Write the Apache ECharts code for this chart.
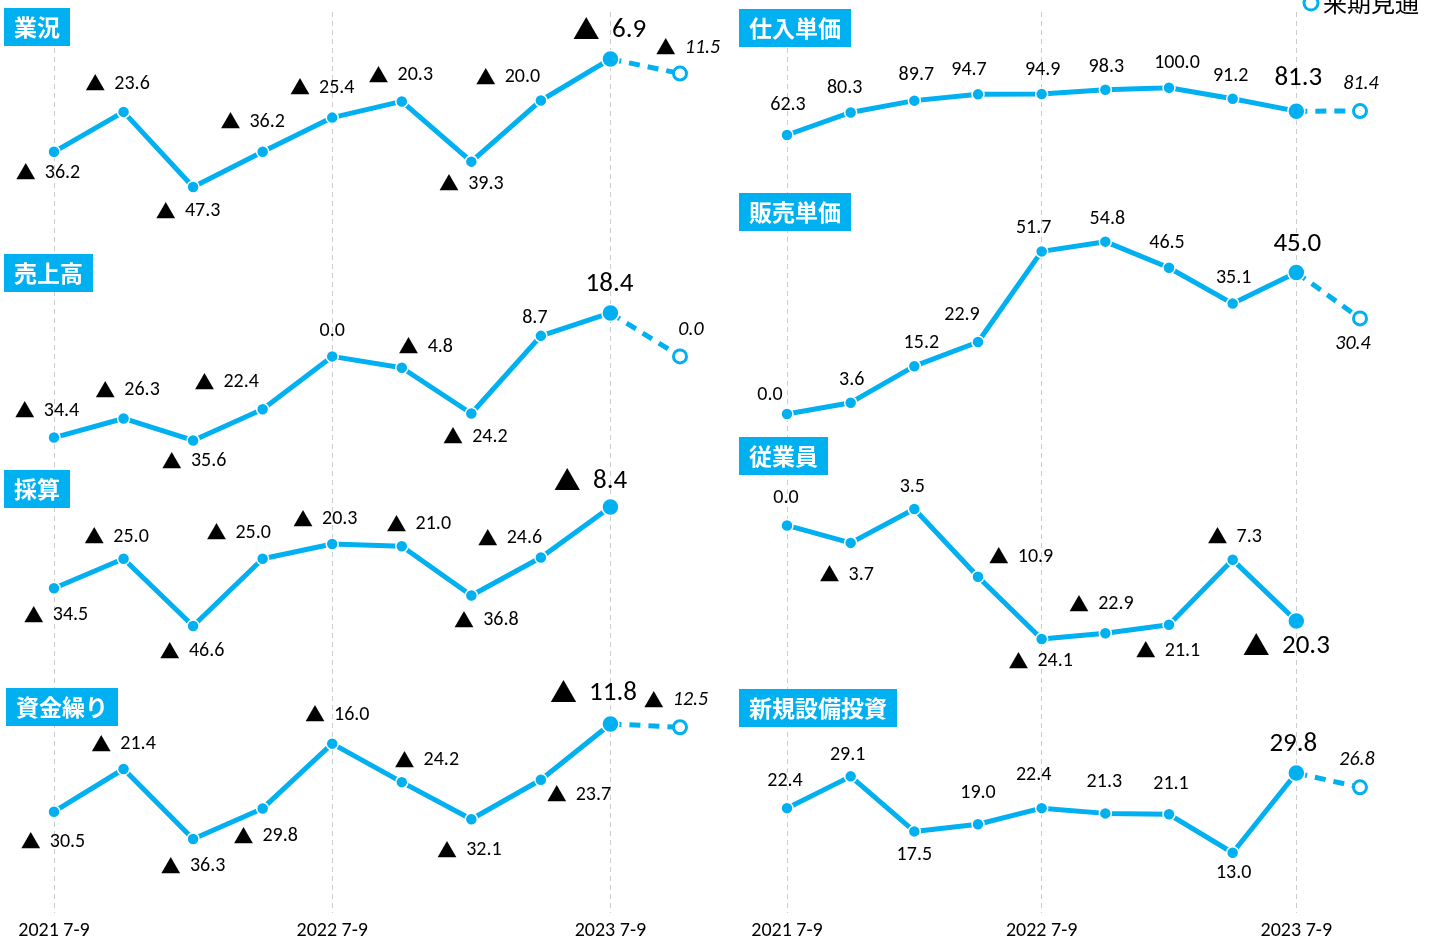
<!DOCTYPE html>
<html>
<head>
<meta charset="utf-8">
<script src="https://cdn.jsdelivr.net/npm/echarts@6/dist/echarts.min.js"></script>
<style>
html,body{margin:0;padding:0;background:#fff;}
#main{width:1435px;height:942px;}
</style>
</head>
<body>
<div id="main"></div>
<script>
// quarters (the 10th one is the outlook)
var categories = ['2021 7-9','2021 10-12','2022 1-3','2022 4-6','2022 7-9','2022 10-12','2023 1-3','2023 4-6','2023 7-9','2023 10-12'];
var tickLabels = ['2021 7-9','2022 7-9','2023 7-9'];

// DI values (negative = ▲)
var gyokyo     = [-36.2, -23.6, -47.3, -36.2, -25.4, -20.3, -39.3, -20.0, -6.9];
var gyokyoNext = -11.5;
var uriage     = [-34.4, -26.3, -35.6, -22.4, 0.0, -4.8, -24.2, 8.7, 18.4];
var uriageNext = 0.0;
var saisan     = [-34.5, -25.0, -46.6, -25.0, -20.3, -21.0, -36.8, -24.6, -8.4];
var saisanNext = null;
var shikin     = [-30.5, -21.4, -36.3, -29.8, -16.0, -24.2, -32.1, -23.7, -11.8];
var shikinNext = -12.5;
var shiire     = [62.3, 80.3, 89.7, 94.7, 94.9, 98.3, 100.0, 91.2, 81.3];
var shiireNext = 81.4;
var hanbai     = [0.0, 3.6, 15.2, 22.9, 51.7, 54.8, 46.5, 35.1, 45.0];
var hanbaiNext = 30.4;
var jugyoin    = [0.0, -3.7, 3.5, -10.9, -24.1, -22.9, -21.1, -7.3, -20.3];
var jugyoinNext = null;
var setsubi    = [22.4, 29.1, 17.5, 19.0, 22.4, 21.3, 21.1, 13.0, 29.8];
var setsubiNext = 26.8;

var BLUE = '#00B0F0';
var FONT = 'Carlito, Lato, "Noto Sans", sans-serif';
var JP = '"Noto Sans CJK JP", sans-serif';

var cols = [{left: 54, right: 755}, {left: 787, right: 75}];

// layout of each small panel (label offsets are relative to the point)
var panels = [
  {name: '業況', data: gyokyo, next: gyokyoNext, col: 0, titleLeft: 4, titleTop: 8, top: 37.1, height: 174.3, min: -55, max: 0,
   off: [[-6,21],[-6,-28],[-5,24],[-10,-30],[-10,-30],[-1,-26],[0,22],[-33,-23],[-1,-29],[8,-26]]},
  {name: '売上高', data: uriage, next: uriageNext, col: 0, titleLeft: 4, titleTop: 254, top: 309.2, height: 141.6, min: -40, max: 20,
   off: [[-7,-27],[4,-28],[1,21],[-36,-27],[0,-25],[24,-21],[4,23],[-6,-18],[-1,-29],[11,-26]]},
  {name: '採算', data: saisan, next: saisanNext, col: 0, titleLeft: 4, titleTop: 470, top: 480.8, height: 155.8, min: -50, max: 0,
   off: [[2,27],[-7,-22],[-1,25],[-24,-26],[-7,-25],[17,-22],[15,25],[-31,-19],[-20,-26]]},
  {name: '資金繰り', data: shikin, next: shikinNext, col: 0, titleLeft: 6, titleTop: 688, top: 715.5, height: 140.8, min: -40, max: -10,
   off: [[-1,30],[0,-25],[0,27],[3,28],[5,-29],[25,-22],[-2,31],[38,15],[-17,-31],[-4,-27]]},
  {name: '仕入単価', data: shiire, next: shiireNext, col: 1, titleLeft: 739, titleTop: 9, top: 87.7, height: 50.2, min: 60, max: 100,
   off: [[1,-30],[-6,-24],[2,-26],[-9,-24],[1,-24],[1,-23],[8,-25],[-2,-23],[2,-33],[1,-27]]},
  {name: '販売単価', data: hanbai, next: hanbaiNext, col: 1, titleLeft: 739, titleTop: 193, top: 225.3, height: 188.7, min: 0, max: 60,
   off: [[-17,-19],[1,-23],[7,-23],[-16,-27],[-8,-23],[2,-23],[-2,-25],[1,-26],[1,-28],[-7,26]]},
  {name: '従業員', data: jugyoin, next: jugyoinNext, col: 1, titleLeft: 739, titleTop: 437, top: 501.9, height: 141.3, min: -25, max: 5,
   off: [[-1,-27],[-4,32],[-2,-22],[43,-20],[-1,22],[-4,-29],[-1,26],[2,-23],[-10,25]]},
  {name: '新規設備投資', data: setsubi, next: setsubiNext, col: 1, titleLeft: 739, titleTop: 689, top: 772.1, height: 94.9, min: 10, max: 30,
   off: [[-2,-27],[-3,-21],[0,24],[0,-31],[-8,-33],[-1,-31],[2,-30],[1,20],[-3,-29],[-3,-27]]}
];

function fmt(v) {
  if (v < 0) return '{t|▲}  ' + (-v).toFixed(1);
  return v.toFixed(1);
}
var tri = {t: {fontFamily: JP, fontStyle: 'normal'}};

var dom = document.getElementById('main');
var myChart = echarts.init(dom);

var grids = [], xAxes = [], yAxes = [], series = [], titles = [];

function showTick(i, v) { return tickLabels.indexOf(v) >= 0; }

// frame grids: dashed quarter lines + bottom labels
cols.forEach(function (c, k) {
  grids.push({left: c.left, right: c.right, top: 12, bottom: 29});
  xAxes.push({
    type: 'category', gridIndex: k, data: categories, boundaryGap: false,
    axisLine: {show: false}, axisTick: {show: false},
    axisLabel: {interval: showTick, margin: 8, color: '#000', fontSize: 20, fontFamily: FONT},
    splitLine: {show: true, interval: showTick, lineStyle: {color: '#cccccc', type: [5, 4], width: 1}}
  });
  yAxes.push({type: 'value', gridIndex: k, show: false, min: 0, max: 1, splitLine: {show: false}});
});

panels.forEach(function (p, n) {
  var gi = n + 2;
  var c = cols[p.col];
  grids.push({left: c.left, right: c.right, top: p.top, height: p.height});
  xAxes.push({type: 'category', gridIndex: gi, data: categories, boundaryGap: false, show: false});
  yAxes.push({type: 'value', gridIndex: gi, show: false, min: p.min, max: p.max, splitLine: {show: false}});

  titles.push({
    text: p.name, left: p.titleLeft, top: p.titleTop,
    backgroundColor: BLUE, padding: [5, 10],
    textStyle: {color: '#fff', fontSize: 23, fontWeight: 'bold', fontFamily: JP, lineHeight: 28}
  });

  var last = p.data.length - 1;
  if (p.next !== null) {
    var fdata = [];
    for (var i = 0; i < last; i++) fdata.push('-');
    fdata.push({value: p.data[last], symbol: 'none', label: {show: false}});
    fdata.push({value: p.next, label: {show: true, offset: p.off[last + 1]}});
    series.push({
      name: '来期見通', type: 'line', xAxisIndex: gi, yAxisIndex: gi, z: 2,
      data: fdata, symbol: 'circle', symbolSize: 13,
      lineStyle: {color: BLUE, width: 5, type: [11, 8]},
      itemStyle: {color: '#fff', borderColor: BLUE, borderWidth: 3},
      label: {position: 'inside', formatter: function (q) { return fmt(q.value); }, rich: tri,
              color: '#000', fontSize: 20, fontStyle: 'italic', fontFamily: FONT},
      emphasis: {disabled: true}, animation: false
    });
  }

  series.push({
    name: p.name, type: 'line', xAxisIndex: gi, yAxisIndex: gi, z: 3,
    data: p.data.map(function (v, i) {
      var big = i === last;
      return {value: v, symbolSize: big ? 17 : 12,
              label: {offset: p.off[i], fontSize: big ? 27 : 20}};
    }),
    symbol: 'circle',
    lineStyle: {color: BLUE, width: 5},
    itemStyle: {color: BLUE, borderColor: '#fff', borderWidth: 1.5},
    label: {show: true, position: 'inside', color: '#000', fontFamily: FONT, rich: tri,
            formatter: function (q) { return fmt(q.value); }},
    emphasis: {disabled: true}, animation: false
  });
});

var option = {
  backgroundColor: '#fff',
  title: titles,
  legend: {
    data: [{name: '来期見通', icon: 'circle'}],
    right: 11, top: -14, selectedMode: false,
    itemWidth: 14, itemHeight: 14, itemGap: 7,
    itemStyle: {color: '#fff', borderColor: BLUE, borderWidth: 3},
    textStyle: {color: '#000', fontSize: 24, fontFamily: JP}
  },
  tooltip: {show: false},
  grid: grids,
  xAxis: xAxes,
  yAxis: yAxes,
  series: series
};

window.onresize = function () {
  myChart.resize();
};

if (option && typeof option === 'object') {
  myChart.setOption(option);
}
</script>
</body>
</html>
